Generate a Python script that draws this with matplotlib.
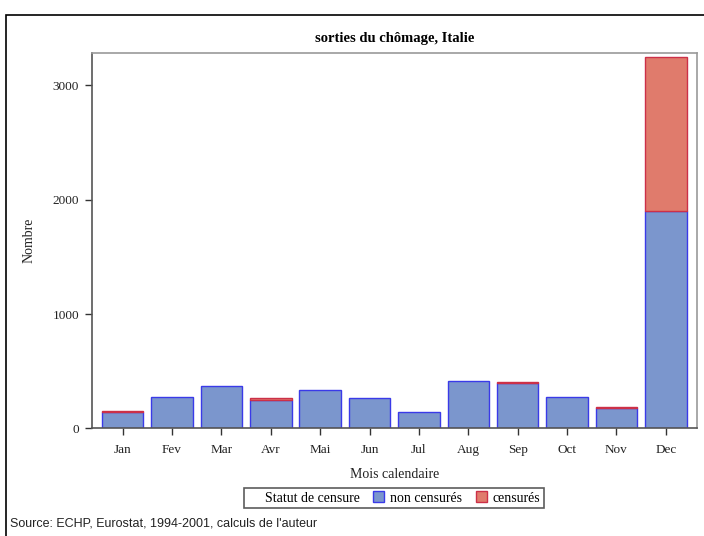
import matplotlib
matplotlib.use("Agg")
import matplotlib.pyplot as plt
from matplotlib.patches import Patch, Rectangle
import numpy as np

months = ["Jan", "Fev", "Mar", "Avr", "Mai", "Jun", "Jul", "Aug", "Sep", "Oct", "Nov", "Dec"]
non_censures = [143, 274, 367, 250, 332, 262, 143, 414, 398, 274, 181, 1904]
censures = [12, 0, 0, 12, 0, 0, 0, 0, 10, 0, 11, 1345]

serif = ["Liberation Serif", "DejaVu Serif"]
sans = ["Liberation Sans", "DejaVu Sans"]

fig = plt.figure(figsize=(7.04, 5.36), dpi=100)
ax = fig.add_axes([0.130, 0.2006, 0.860, 0.7004])

x = np.arange(len(months))
nc = np.array(non_censures)
c = np.array(censures)
blue_face = "#7b96cd"
blue_edge = "#3a3ae8"
red_face = "#e07b6c"
red_edge = "#cc3048"

ax.bar(x, nc, width=0.84, color=blue_face, edgecolor=blue_edge, linewidth=1.0)
m = c > 0
ax.bar(x[m], c[m], width=0.84, bottom=nc[m], color=red_face, edgecolor=red_edge, linewidth=1.0)

ax.set_xlim(-0.63, 11.63)
ax.set_ylim(0, 3280)
ax.set_xticks(x)
ax.set_xticklabels(months, fontfamily=serif, fontsize=9.5, color="#222222")
ax.set_yticks([0, 1000, 2000, 3000])
ax.set_yticklabels(["0", "1000", "2000", "3000"], fontfamily=serif, fontsize=9.5, color="#222222")
ax.tick_params(axis="both", direction="out", length=5, width=1, color="#333333", pad=4)
ax.tick_params(axis="x", pad=6)
for side in ["left", "bottom", "top", "right"]:
    ax.spines[side].set_color("#555555")
    ax.spines[side].set_linewidth(1.2)
ax.spines["top"].set_color("#999999")
ax.spines["right"].set_color("#999999")

ax.set_xlabel("Mois calendaire", fontfamily=serif, fontsize=10, color="#222222", labelpad=9)
ax.set_ylabel("Nombre", fontfamily=serif, fontsize=10, color="#222222", labelpad=12)
ax.set_title("sorties du chômage, Italie", fontfamily=serif, fontsize=10.5, fontweight="bold", pad=8)

handles = [Patch(facecolor="none", edgecolor="none"),
           Patch(facecolor=blue_face, edgecolor=blue_edge),
           Patch(facecolor=red_face, edgecolor=red_edge)]
labels = ["Statut de censure", "non censurés", "censurés"]
leg = fig.legend(handles, labels, ncol=3, loc="center", bbox_to_anchor=(394 / 704, 1 - 498 / 536),
                 prop={"family": serif, "size": 10}, frameon=True, fancybox=False,
                 edgecolor="#333333", handlelength=0.8, handleheight=0.8, handletextpad=0.4,
                 columnspacing=1.0, borderpad=0.25, borderaxespad=0)
leg.get_frame().set_linewidth(1.2)
leg.legend_handles[0].set_visible(False)

fig.text(10 / 704, 1 - 523 / 536, "Source: ECHP, Eurostat, 1994-2001, calculs de l'auteur",
         fontfamily=sans, fontsize=9, color="#222222", va="center", ha="left")

fig.patches.append(Rectangle((6 / 704, -0.05), 1.2, 1 - 15 / 536 + 0.05, transform=fig.transFigure,
                             fill=False, edgecolor="black", linewidth=1.2))

fig.savefig("out.png", dpi=100)
